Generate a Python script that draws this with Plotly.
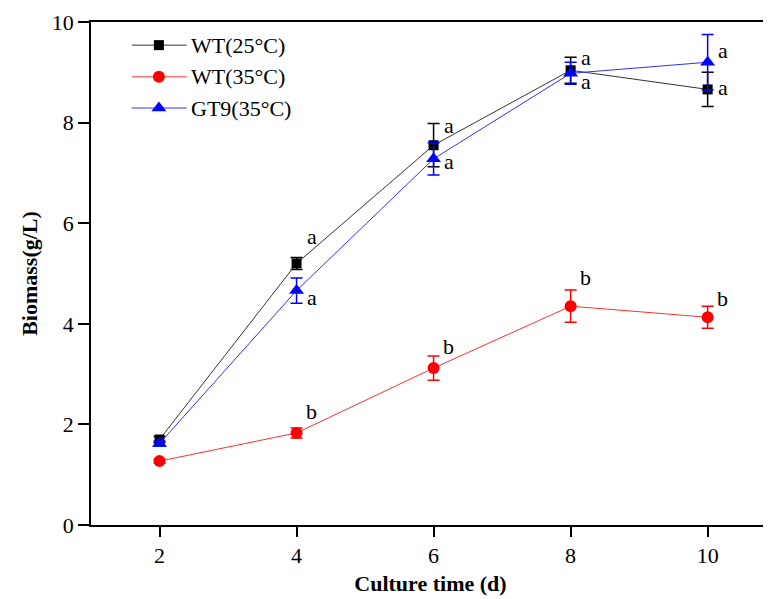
import plotly.graph_objects as go

days = [2, 4, 6, 8, 10]
series_names = ["WT(25°C)", "WT(35°C)", "GT9(35°C)"]
wt25 = [1.70, 5.20, 7.55, 9.04, 8.66]
wt25_err = [0.06, 0.12, 0.43, 0.26, 0.34]
wt35 = [1.27, 1.83, 3.12, 4.35, 4.13]
wt35_err = [0.04, 0.10, 0.24, 0.32, 0.22]
gt9 = [1.62, 4.66, 7.28, 8.98, 9.20]
gt9_err = [0.05, 0.25, 0.32, 0.22, 0.55]

wt25_letters = ["", "a", "a", "a", "a"]
wt25_letter_y = [None, 5.73, 7.95, 9.29, 8.70]
wt35_letters = ["", "b", "b", "b", "b"]
wt35_letter_y = [None, 2.25, 3.55, 4.93, 4.50]
gt9_letters = ["", "a", "a", "a", "a"]
gt9_letter_y = [None, 4.53, 7.22, 8.81, 9.44]

x_ticks = [2, 4, 6, 8, 10]
y_ticks = [0, 2, 4, 6, 8, 10]

FONT = "Liberation Serif, Times New Roman, serif"
colors = ["#000000", "#ff0000", "#0000ff"]
line_colors = ["#333333", "#ff3030", "#3030ff"]
symbols = ["square", "circle", "triangle-up"]
sizes = [10, 12, 13]

fig = go.Figure()
for name, vals, errs, c, lc, sym, sz in zip(
        series_names, [wt25, wt35, gt9], [wt25_err, wt35_err, gt9_err],
        colors, line_colors, symbols, sizes):
    fig.add_trace(go.Scatter(
        x=days, y=vals, name=name, mode="lines+markers",
        line=dict(color=lc, width=1),
        marker=dict(symbol=sym, size=sz, color=c, opacity=1,
                    line=dict(width=0)),
        error_y=dict(type="data", array=errs, visible=True, color=c,
                     thickness=1.5, width=6),
        showlegend=False,
    ))

# letters
for letters, ly in [(wt25_letters, wt25_letter_y), (wt35_letters, wt35_letter_y),
                    (gt9_letters, gt9_letter_y)]:
    for d, t, yv in zip(days, letters, ly):
        if t:
            fig.add_annotation(x=d, y=yv, text=t, showarrow=False, xshift=15,
                               font=dict(family=FONT, size=22, color="black"))

# custom legend
leg_y = [0.954, 0.891, 0.829]
for name, c, lc, sym, sz, yy in zip(series_names, colors, line_colors, symbols, sizes, leg_y):
    fig.add_trace(go.Scatter(
        x=[0.06, 0.141], y=[yy, yy], mode="lines",
        line=dict(color=lc, width=1),
        xaxis="x2", yaxis="y2", showlegend=False, hoverinfo="skip",
    ))
    fig.add_trace(go.Scatter(
        x=[0.1], y=[yy], mode="markers",
        marker=dict(symbol=sym, size=sz, color=c, opacity=1,
                    line=dict(width=0)),
        xaxis="x2", yaxis="y2", showlegend=False, hoverinfo="skip",
    ))
    fig.add_annotation(xref="paper", yref="paper", x=0.145, y=yy, text=name,
                       showarrow=False, xanchor="left", yanchor="middle",
                       font=dict(family=FONT, size=22, color="black"))

fig.update_layout(
    width=763, height=591,
    margin=dict(l=83, r=1, t=14, b=74),
    paper_bgcolor="white", plot_bgcolor="white",
    font=dict(family=FONT, size=22, color="black"),
    xaxis=dict(
        range=[1, 10.91], tickvals=x_ticks, ticks="outside", ticklen=10,
        tickwidth=1.5, tickcolor="black", showline=True, linewidth=1.5,
        linecolor="black", mirror=True, showgrid=False, zeroline=False,
        tickfont=dict(family=FONT, size=22),
        title=dict(text="<b>Culture time (d)</b>", standoff=8,
                   font=dict(family=FONT, size=22)),
    ),
    yaxis=dict(
        range=[0, 10], tickvals=y_ticks, ticks="outside", ticklen=11,
        tickwidth=1.5, tickcolor="black", showline=True, linewidth=1.5,
        linecolor="black", showgrid=False, zeroline=False,
        tickfont=dict(family=FONT, size=22),
        title=dict(text="<b>Biomass(g/L)</b>", standoff=8,
                   font=dict(family=FONT, size=22)),
    ),
    xaxis2=dict(range=[0, 1], overlaying="x", visible=False, anchor="y2"),
    yaxis2=dict(range=[0, 1], overlaying="y", visible=False, anchor="x2"),
)

fig.write_html("out.html")
